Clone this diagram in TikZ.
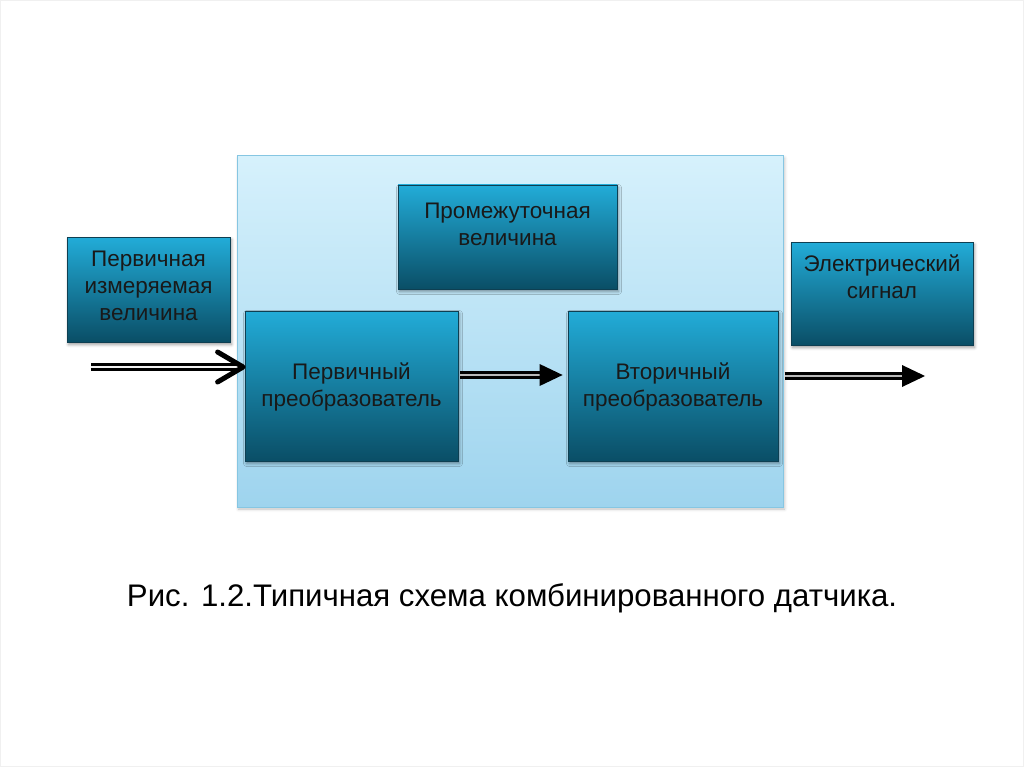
\documentclass[tikz,border=0pt]{standalone}
\usepackage{fontspec}
\setmainfont{Liberation Sans}
\usetikzlibrary{shadows.blur}
\definecolor{boxtop}{HTML}{22ACD8}
\definecolor{boxbot}{HTML}{0A4E66}
\definecolor{boxline}{HTML}{0E3F52}
\definecolor{frtop}{HTML}{D6F1FC}
\definecolor{frbot}{HTML}{9ED4EE}
\definecolor{frline}{HTML}{86C6E2}
\begin{document}
\begin{tikzpicture}[x=1pt,y=-1pt,
  frame/.style={draw=frline, line width=1pt, top color=frtop, bottom color=frbot, inner sep=0pt,
    blur shadow={shadow xshift=1.5pt, shadow yshift=-2pt, shadow blur radius=3pt, shadow opacity=25}},
  box/.style={draw=boxline, line width=0.8pt, top color=boxtop, bottom color=boxbot, inner sep=0pt,
    blur shadow={shadow xshift=1.5pt, shadow yshift=-2.5pt, shadow blur radius=3pt, shadow opacity=40}},
  lbl/.style={font=\fontsize{22.5}{26.8}\selectfont, align=center, text=black!90, inner sep=0pt},
  shaft/.style={draw=black, line width=3.8pt, double=gray!55, double distance=1.2pt},
  chev/.style={draw=black, line width=5pt, line cap=round, line join=round},
  tip/.style={fill=black}]
\path[use as bounding box] (0,0) rectangle (1024,767);
\draw[gray!12, line width=1pt] (0.5,0.5) rectangle (1023.5,766.5);
% frame
\node[frame, minimum width=546pt, minimum height=351pt] (fr) at (510,331.5) {};
% boxes
\node[box, minimum width=219pt, minimum height=104pt] (prom) at (507.5,237) {};
\node[box, minimum width=163pt, minimum height=105pt] (pim) at (148.5,289.5) {};
\node[box, minimum width=213pt, minimum height=150pt] (pp) at (351.5,386) {};
\node[box, minimum width=210pt, minimum height=150pt] (vp) at (673,386) {};
\node[box, minimum width=182pt, minimum height=103pt] (es) at (882,293.5) {};
% labels
\node[lbl] (tprom) at (507.5,224) {Промежуточная\\величина};
\node[lbl] (tpim) at (148.5,286) {Первичная\\измеряемая\\величина};
\node[lbl] (tpp) at (351.5,387) {Первичный\\преобразователь};
\node[lbl] (tvp) at (673,387) {Вторичный\\преобразователь};
\node[lbl] (tes) at (882,277) {Электрический\\сигнал};
% arrow 1
\coordinate (in) at (91,367);
\coordinate (h1) at (pp.west |- in);
\draw[shaft, line width=3.4pt, double=gray!10, double distance=2pt] (in) -- ([xshift=-4pt]h1);
\draw[chev] ([xshift=-27pt,yshift=15pt]h1) -- ([xshift=-1.5pt]h1) -- ([xshift=-27pt,yshift=-15pt]h1);
% arrow 2
\coordinate (s2) at ([yshift=11pt]pp.east);
\coordinate (e2) at ([xshift=-5pt,yshift=11pt]vp.west);
\draw[shaft] ([xshift=2pt]s2) -- ([xshift=-20pt]e2);
\fill[tip] (e2) -- ([xshift=-23pt,yshift=11pt]e2) -- ([xshift=-23pt,yshift=-11pt]e2) -- cycle;
% arrow 3
\coordinate (s3) at (fr.east |- 0,376);
\coordinate (out) at (925,376);
\draw[shaft] ([xshift=1pt]s3) -- ([xshift=-20pt]out);
\fill[tip] (out) -- ([xshift=-23pt,yshift=11pt]out) -- ([xshift=-23pt,yshift=-11pt]out) -- cycle;
% caption
\node[font=\fontsize{31.2}{36}\selectfont, inner sep=0pt] (cap) at (512,598) {Рис. 1.2.Типичная схема комбинированного датчика.};
\end{tikzpicture}
\end{document}
